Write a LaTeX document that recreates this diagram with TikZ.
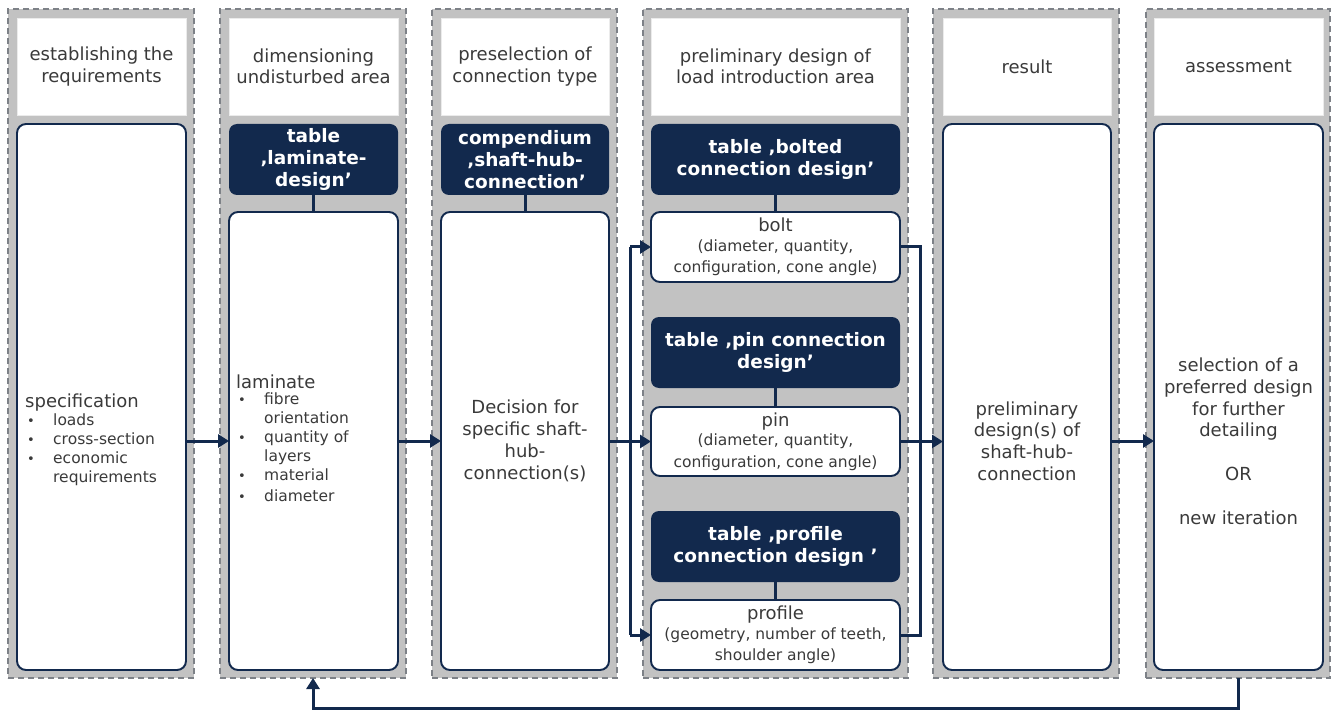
\documentclass[tikz,border=0pt]{standalone}
\usepackage{fontspec}
\setmainfont{DejaVu Sans}
\usetikzlibrary{arrows.meta}
\definecolor{navy}{HTML}{12294D}
\definecolor{lanegray}{HTML}{C2C2C2}
\definecolor{dashgray}{HTML}{7D8187}
\definecolor{txt}{HTML}{3A3A3A}
\begin{document}
\begin{tikzpicture}[x=1pt,y=-1pt,
  lane/.style={draw=dashgray, fill=lanegray, line width=1.4pt, dash pattern=on 6pt off 4pt, inner sep=0pt, outer sep=0pt},
  head/.style={fill=white, draw=white!92!black, line width=0.6pt, text=txt, align=center, inner sep=0pt, outer sep=0pt, font=\fontsize{18}{21.5}\selectfont},
  body/.style={fill=white, draw=navy, line width=1.9pt, rounded corners=9pt, inner sep=0pt, outer sep=0pt},
  dark/.style={fill=navy, text=white, rounded corners=8pt, align=center, inner sep=0pt, outer sep=0pt, font=\fontsize{18.5}{21.8}\selectfont\bfseries},
  sub/.style={body, align=center, text=txt, font=\fontsize{18}{21.5}\selectfont},
  btext/.style={text=txt, align=center, font=\fontsize{18}{21.8}\selectfont, inner sep=0pt},
  ln/.style={draw=navy, line width=3pt},
  arr/.style={draw=navy, line width=3pt, -{Triangle[length=11pt,width=13pt]}}
]
\useasboundingbox (0,0) rectangle (1333,711);
\newcommand{\sm}[1]{{\fontsize{15.5}{20.5}\selectfont #1}}
\newcommand{\bul}{{\fontsize{13}{13}\selectfont•}}
% lanes
\node[lane, minimum width=186pt, minimum height=669pt] (L1) at (101,343.5) {};
\node[lane, minimum width=186pt, minimum height=669pt] (L2) at (313,343.5) {};
\node[lane, minimum width=185pt, minimum height=669pt] (L3) at (524.5,343.5) {};
\node[lane, minimum width=265pt, minimum height=669pt] (L4) at (775.5,343.5) {};
\node[lane, minimum width=186pt, minimum height=669pt] (L5) at (1026,343.5) {};
\node[lane, minimum width=184pt, minimum height=669pt] (L6) at (1238,343.5) {};
% headers
\node[head, minimum width=169pt, minimum height=97pt] (H1) at (101.5,66.5) {establishing the\\requirements};
\node[head, minimum width=169pt, minimum height=97pt] (H2) at (313.5,66.5) {dimensioning\\undisturbed area};
\node[head, minimum width=168pt, minimum height=97pt] (H3) at (525,66.5) {preselection of\\connection type};
\node[head, minimum width=249pt, minimum height=97pt] (H4) at (775.5,66.5) {preliminary design of\\load introduction area};
\node[head, minimum width=168pt, minimum height=97pt] (H5) at (1027,66.5) {result};
\node[head, minimum width=169pt, minimum height=97pt] (H6) at (1238.5,66.5) {assessment};
% column 1
\node[body, minimum width=169pt, minimum height=546pt] (B1) at (101.5,397) {};
\node[text=txt, anchor=west, inner sep=0pt, font=\fontsize{15.5}{19}\selectfont] (T1) at (25,441) {%
\begin{tabular}{@{\hspace{2pt}}p{26pt}@{}l@{}}
\multicolumn{2}{@{}l@{}}{\fontsize{18}{21}\selectfont specification}\\[-1pt]
\bul & loads\\
\bul & cross-section\\
\bul & economic\\
 & requirements
\end{tabular}};
% column 2
\node[dark, minimum width=169pt, minimum height=71pt] (D2) at (313.5,159.5) {table\\‚laminate-\\design’};
\node[body, minimum width=169pt, minimum height=458pt] (B2) at (313.5,441) {};
\node[text=txt, anchor=west, inner sep=0pt, font=\fontsize{15.5}{19}\selectfont] (T2) at (236,441) {%
\begin{tabular}{@{\hspace{2pt}}p{26pt}@{}l@{}}
\multicolumn{2}{@{}l@{}}{\fontsize{18}{21}\selectfont laminate}\\[-3pt]
\bul & fibre\\
 & orientation\\
\bul & quantity of\\
 & layers\\
\bul & material\\[2pt]
\bul & diameter
\end{tabular}};
\draw[ln] (D2.south) -- (B2.north);
% column 3
\node[dark, minimum width=168pt, minimum height=71pt] (D3) at (525,159.5) {compendium\\‚shaft-hub-\\connection’};
\node[body, minimum width=168pt, minimum height=458pt] (B3) at (525,441) {};
\node[btext] (T3) at (525,441) {Decision for\\specific shaft-\\hub-\\connection(s)};
\draw[ln] (D3.south) -- (B3.north);
% column 4
\node[dark, minimum width=249pt, minimum height=71pt] (D4a) at (775.5,159.5) {table ‚bolted\\connection design’};
\node[sub, minimum width=249pt, minimum height=70pt] (bolt) at (775.5,247) {bolt\\[-2pt]\sm{(diameter, quantity,}\\\sm{configuration, cone angle)}};
\node[dark, minimum width=249pt, minimum height=71pt] (D4b) at (775.5,352.5) {table ‚pin connection\\design’};
\node[sub, minimum width=249pt, minimum height=69pt] (pin) at (775.5,441.5) {pin\\[-2pt]\sm{(diameter, quantity,}\\\sm{configuration, cone angle)}};
\node[dark, minimum width=249pt, minimum height=71pt] (D4c) at (775.5,546.5) {table ‚profile\\connection design ’};
\node[sub, minimum width=249pt, minimum height=70pt] (profile) at (775.5,635) {profile\\[-2pt]\sm{(geometry, number of teeth,}\\\sm{shoulder angle)}};
\draw[ln] (D4a.south) -- (bolt.north);
\draw[ln] (D4b.south) -- (pin.north);
\draw[ln] (D4c.south) -- (profile.north);
% column 5
\node[body, minimum width=168pt, minimum height=546pt] (B5) at (1027,397) {};
\node[btext] (T5) at (1027,441) {preliminary\\design(s) of\\shaft-hub-\\connection};
% column 6
\node[body, minimum width=169pt, minimum height=546pt] (B6) at (1238.5,397) {};
\node[btext] (T6) at (1238.5,441) {selection of a\\preferred design\\for further\\detailing\\[21.8pt]OR\\[21.8pt]new iteration};
% connectors
\coordinate (jl) at (630,441);
\coordinate (jr) at (920,441);
\draw[arr] (B1.east |- T1) -- (B2.west |- T1);
\draw[arr] (B2.east |- T2) -- (B3.west |- T2);
\draw[arr] (B3.east |- pin) -- (pin.west);
\draw[ln] (jl |- bolt) -- (jl |- profile);
\draw[arr] (jl |- bolt) -- (bolt.west);
\draw[arr] (jl |- profile) -- (profile.west);
\draw[ln] (bolt.east) -- (jr |- bolt) -- (jr |- profile) -- (profile.east);
\draw[arr] (pin.east) -- (B5.west |- pin);
\draw[arr] (B5.east |- T5) -- (B6.west |- T5);
\draw[arr] (L6.south) -- ++(0,30) -| (L2.south);
\end{tikzpicture}
\end{document}
